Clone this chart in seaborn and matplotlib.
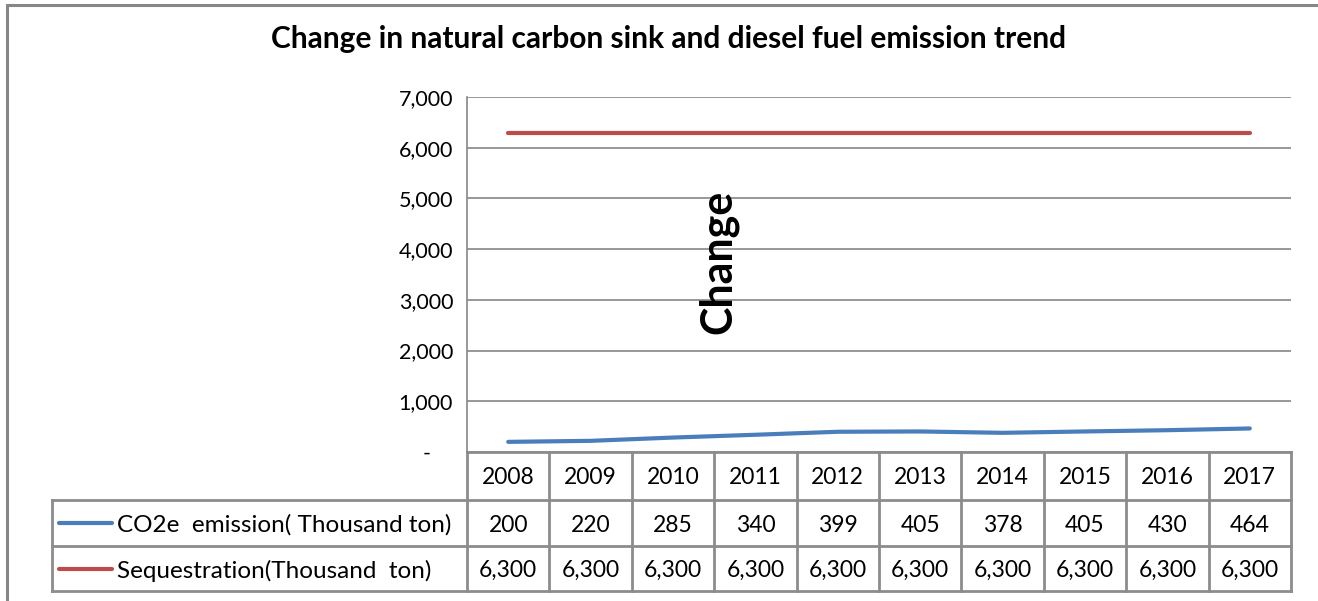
import matplotlib
matplotlib.use("Agg")
import matplotlib.pyplot as plt
from matplotlib.lines import Line2D
from matplotlib.patches import Rectangle
from matplotlib.transforms import blended_transform_factory
import seaborn as sns
import pandas as pd

# Data
years = [2008, 2009, 2010, 2011, 2012, 2013, 2014, 2015, 2016, 2017]
co2e_emission = [200, 220, 285, 340, 399, 405, 378, 405, 430, 464]
sequestration = [6300, 6300, 6300, 6300, 6300, 6300, 6300, 6300, 6300, 6300]
series_names = ["CO2e  emission( Thousand ton)", "Sequestration(Thousand  ton)"]
y_ticks = [0, 1000, 2000, 3000, 4000, 5000, 6000, 7000]
title = "Change in natural carbon sink and diesel fuel emission trend"
axis_note = "Change"

BLUE = "#4A7EBB"
RED = "#BE4B48"
GRID = "#868686"
FONT = "Lato"

sns.set_theme(style="white")
plt.rcParams["font.family"] = [FONT, "DejaVu Sans"]
plt.rcParams["text.color"] = "black"

W, H = 1318, 601
fig = plt.figure(figsize=(W / 100, H / 100), dpi=100)

# plot area in pixels
px_l, px_r, px_t, px_b = 467, 1291, 97, 452
ax = fig.add_axes([px_l / W, 1 - px_b / H, (px_r - px_l) / W, (px_b - px_t) / H])

df = pd.DataFrame({
    "idx": list(range(len(years))) * 2,
    "value": co2e_emission + sequestration,
    "series": [series_names[0]] * len(years) + [series_names[1]] * len(years),
})
sns.lineplot(data=df, x="idx", y="value", hue="series",
             palette=[BLUE, RED], linewidth=3.0, ax=ax, legend=False,
             solid_capstyle="round")

ax.set_xlim(-0.5, len(years) - 0.5)
ax.set_ylim(0, 7000)
ax.set_yticks(y_ticks)
ax.set_yticklabels(["-    "] + [f"{v:,}" for v in y_ticks[1:]])
ax.set_xticks([])
ax.set_xlabel("")
ax.set_ylabel("")
ax.tick_params(axis="y", length=0, pad=10, labelsize=15.5, colors="black")
ax.grid(axis="y", color=GRID, linewidth=1.2)
ax.set_axisbelow(True)
for side in ["top", "right", "bottom"]:
    ax.spines[side].set_visible(False)
ax.spines["left"].set_color(GRID)
ax.spines["left"].set_linewidth(1.2)

# rotated note in the plot area
ax.text(0.305, 0.535, axis_note, transform=ax.transAxes, rotation=90,
        ha="center", va="center", fontsize=31, fontweight="bold")

fig.text(669 / W, 1 - 39 / H, title, ha="center", va="center",
         fontsize=21.5, fontweight="bold")

# data table under the axis
trans = blended_transform_factory(ax.transData, ax.transAxes)
ph = px_b - px_t
row_edges = [0, -(500 - px_b) / ph, -(546 - px_b) / ph, -(591 - px_b) / ph]
x0, x1 = -0.5, len(years) - 0.5
leg_left = (52 - px_l) / (px_r - px_l)  # axes fraction
tab_kw = dict(color="#8C8C8C", linewidth=2, clip_on=False, solid_capstyle="projecting")

# horizontal rules
ax.plot([x0, x1], [row_edges[0]] * 2, transform=trans, **tab_kw)
for r in row_edges[1:]:
    ax.plot([leg_left, 1], [r, r], transform=ax.transAxes, **tab_kw)
# vertical rules
ax.plot([leg_left, leg_left], [row_edges[1], row_edges[3]], transform=ax.transAxes, **tab_kw)
for i in range(len(years) + 1):
    ax.plot([i - 0.5, i - 0.5], [row_edges[0], row_edges[3]], transform=trans, **tab_kw)

cell_fs = 16.5
rows = [[str(y) for y in years],
        [f"{v:,}" for v in co2e_emission],
        [f"{v:,}" for v in sequestration]]
for r, vals in enumerate(rows):
    yc = (row_edges[r] + row_edges[r + 1]) / 2
    for i, s in enumerate(vals):
        ax.text(i, yc, s, transform=trans, ha="center", va="center_baseline",
                fontsize=cell_fs)

# legend keys inside the row headers
px2ax = lambda px: (px - px_l) / (px_r - px_l)
for r, (name, col) in enumerate(zip(series_names, [BLUE, RED]), start=1):
    yc = (row_edges[r] + row_edges[r + 1]) / 2
    ax.add_line(Line2D([px2ax(59), px2ax(112)], [yc, yc], transform=ax.transAxes,
                       color=col, linewidth=3.0, clip_on=False, solid_capstyle="round"))
    ax.text(px2ax(117), yc, name, transform=ax.transAxes, ha="left",
            va="center_baseline", fontsize=17.5)

# outer chart border (continues past the right and bottom edges)
fig.add_artist(Rectangle((7 / W, -0.2), 1.5, 1.2 - 5 / H, transform=fig.transFigure,
                         fill=False, edgecolor="#878787", linewidth=2.2))

fig.savefig("out.png", dpi=100, facecolor="white")
